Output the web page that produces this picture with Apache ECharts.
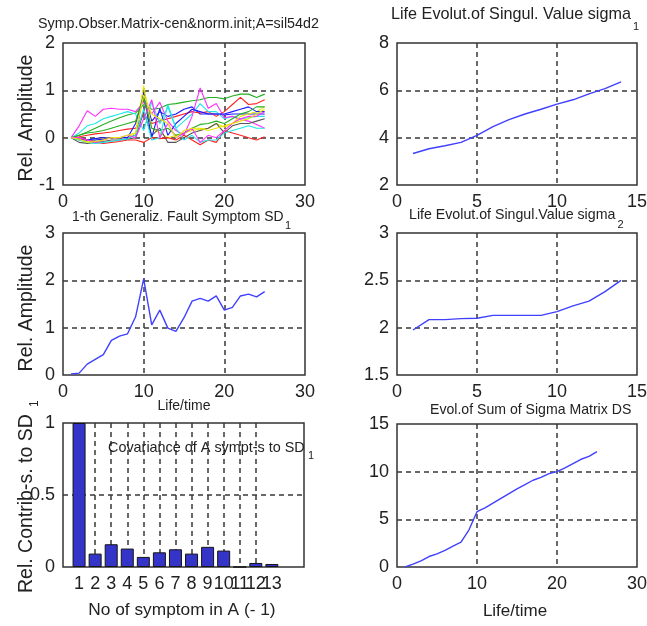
<!DOCTYPE html>
<html>
<head>
<meta charset="utf-8">
<script src="https://cdn.jsdelivr.net/npm/echarts@6/dist/echarts.min.js"></script>
<style>
  html, body { margin: 0; padding: 0; background: #fff; }
  #chart { width: 647px; height: 626px; }
</style>
</head>
<body>
<div id="chart"></div>
<script>
// ---- data -------------------------------------------------------------
const lifeSteps = [1, 2, 3, 4, 5, 6, 7, 8, 9, 10, 11, 12, 13, 14, 15, 16, 17, 18, 19, 20, 21, 22, 23, 24, 25];
const sigmaSteps = [1, 2, 3, 4, 5, 6, 7, 8, 9, 10, 11, 12, 13, 14];

// centred & normalised symptom observation matrix (one row per symptom)
const symptom1  = [0, -0.05, -0.05, -0.02, 0, 0, 0, 0, 0.05, 0.95, 0.35, 0.55, 0.45, 0.5, 0.6, 0.65, 0.5, 0.5, 0.5, 0.48, 0.5, 0.5, 0.5, 0.5, 0.5];
const symptom2  = [0, 0.05, 0.12, 0.2, 0.28, 0.35, 0.42, 0.48, 0.52, 0.7, 0.6, 0.62, 0.7, 0.72, 0.75, 0.78, 0.8, 0.85, 0.85, 0.82, 0.88, 0.92, 0.92, 0.85, 0.92];
const symptom3  = [0, 0.02, 0.05, 0.08, 0.1, 0.12, 0.15, 0.18, 0.2, 0.5, 0.3, 0.35, 0.4, 0.45, 0.5, 0.55, 0.52, 0.55, 0.45, 0.55, 0.7, 0.85, 0.7, 0.72, 0.8];
const symptom4  = [0, 0.1, 0.25, 0.3, 0.4, 0.45, 0.5, 0.55, 0.5, 0.15, 0.75, 0.3, 0.65, 0.2, 0.35, 0.5, 0.72, 0.55, 0.55, 0.4, 0.45, 0.4, 0.42, 0.45, 0.45];
const symptom5  = [0, 0.25, 0.57, 0.45, 0.6, 0.62, 0.6, 0.6, 0.55, 0.75, 0.5, 0.75, 0.35, 0.15, 0.05, 0.45, 1.05, 0.62, 0.72, 0.42, 0.45, 0.38, 0.35, 0.28, 0.2];
const symptom6  = [0, -0.05, -0.08, -0.05, -0.02, 0, 0, 0, 0.1, 1.1, 0.2, 0.1, 0.0, 0.05, 0.1, 0.15, 0.18, 0.2, 0.3, 0.22, 0.3, 0.45, 0.5, 0.55, 0.65];
const symptom7  = [0, -0.1, -0.12, -0.1, -0.08, -0.05, -0.05, -0.03, 0, 0.55, 0.05, 0.2, -0.1, -0.1, 0, 0.1, 0.15, 0.2, 0.3, 0.1, 0.25, 0.3, 0.3, 0.35, 0.4];
const symptom8  = [0, -0.02, -0.05, -0.05, -0.03, 0, 0, 0, 0.3, 0.9, 0.0, 0.62, 0.05, 0.3, 0.45, 0.6, 0.55, 0.5, 0.5, 0.5, 0.55, 0.6, 0.65, 0.55, 0.55];
const symptom9  = [0, 0.05, 0.1, 0.12, 0.15, 0.2, 0.25, 0.3, 0.35, 0.85, 0.2, 0.15, 0.2, 0.05, 0.1, 0.2, 0.28, 0.3, 0.35, 0.3, 0.4, 0.5, 0.55, 0.65, 0.65];
const symptom10 = [0, 0, -0.05, -0.1, -0.12, -0.1, -0.08, -0.05, -0.05, -0.1, 0.0, -0.02, 0.0, -0.05, 0.05, -0.05, -0.15, -0.05, -0.1, 0.15, 0.1, 0.05, 0.0, -0.05, 0.02];
const symptom11 = [0, -0.05, -0.1, -0.12, -0.1, -0.08, -0.05, -0.03, 0.05, 0.6, -0.05, 0.0, 0.7, 0.2, -0.05, 0.05, -0.1, -0.05, -0.05, 0.1, 0.15, 0.2, 0.25, 0.2, 0.2];
const symptom12 = [0, 0.0, -0.05, -0.1, -0.05, 0, 0.0, 0.05, 0.0, 0.4, 0.8, 0.0, 0.3, 0.0, 0.1, 0.2, -0.1, 0.05, 0.0, 0.15, 0.3, 0.4, 0.45, 0.45, 0.55];
const symptom13 = [0, -0.03, -0.1, -0.08, -0.05, 0.0, 0.0, 0.05, 0.1, 0.9, 0.5, 0.4, 0.3, 0.0, 0.15, 0.2, 0.2, 0.15, 0.2, 0.25, 0.3, 0.35, 0.4, 0.5, 0.6];
const symptomRows = [symptom1, symptom2, symptom3, symptom4, symptom5, symptom6, symptom7,
                     symptom8, symptom9, symptom10, symptom11, symptom12, symptom13];

// first generalized fault symptom SD1
const sd1Values = [0.02, 0.04, 0.23, 0.33, 0.43, 0.73, 0.82, 0.87, 1.23, 2.03, 1.06, 1.37, 0.99, 0.92, 1.21, 1.56, 1.62, 1.56, 1.67, 1.37, 1.43, 1.67, 1.71, 1.65, 1.76];

// relative contribution of each symptom to SD1
const barSymptoms = [1, 2, 3, 4, 5, 6, 7, 8, 9, 10, 11, 12, 13];
const barContrib  = [1.0, 0.093, 0.158, 0.128, 0.07, 0.102, 0.123, 0.093, 0.14, 0.114, 0, 0.028, 0.021];

// singular values and their sum
const sigma1Values = [3.33, 3.53, 3.66, 3.8, 4.1, 4.47, 4.76, 5.0, 5.2, 5.42, 5.6, 5.85, 6.07, 6.36];
const sigma2Values = [1.975, 2.085, 2.085, 2.095, 2.1, 2.13, 2.13, 2.13, 2.13, 2.17, 2.23, 2.28, 2.38, 2.5];
const dsValues = [0, 0.3, 0.65, 1.1, 1.38, 1.74, 2.2, 2.6, 3.9, 5.8, 6.2, 6.7, 7.2, 7.7, 8.2, 8.65, 9.1, 9.4, 9.8, 10.0, 10.4, 10.85, 11.3, 11.6, 12.1];

// ---- styling ----------------------------------------------------------
const FONT = "'Liberation Sans', Arial, sans-serif";
const TEXT = '#222';
const LINE_BLUE = '#4040ff';
const symptomColors = ['#1a1aff', '#22b022', '#ff2020', '#22e6e6', '#ff30ff', '#e8e800', '#555555',
                       '#1a1aff', '#22b022', '#ff2020', '#22e6e6', '#ff30ff', '#e8e800'];

const grids = [
  { left: 63,  top: 43,  width: 242, height: 142 },
  { left: 63,  top: 233, width: 242, height: 142 },
  { left: 63,  top: 423, width: 241, height: 144 },
  { left: 397, top: 43,  width: 240, height: 142 },
  { left: 397, top: 233, width: 240, height: 142 },
  { left: 397, top: 424, width: 240, height: 143 }
].map(g => Object.assign(g, {
  show: true, borderColor: '#333', borderWidth: 1.5, backgroundColor: '#fff',
  containLabel: false, outerBoundsMode: 'none'
}));

const gridLine = { show: true, showMinLine: false, showMaxLine: false,
                   lineStyle: { color: '#383838', width: 1.5, type: [5, 4] } };

function labelStyle(extra) {
  return Object.assign({
    color: TEXT, fontSize: 18, fontFamily: FONT, margin: 8,
    hideOverlap: false, showMinLabel: true, showMaxLabel: true
  }, extra || {});
}

function axis(gridIndex, min, max, interval, extra) {
  return Object.assign({
    type: 'value', gridIndex, min, max, interval,
    axisLine: { show: false }, axisTick: { show: false },
    axisLabel: labelStyle(),
    splitLine: gridLine
  }, extra || {});
}

// symptom numbers are crowded, so odd and even labels sit on two overlaid axes
const oddSymptoms = barSymptoms.filter(n => n % 2 === 1);
const evenSymptoms = barSymptoms.filter(n => n % 2 === 0);

const xAxes = [
  axis(0, 0, 30, 10),
  axis(1, 0, 30, 10),
  axis(2, 0, 15, 1, {
    axisTick: { show: false, customValues: barSymptoms },
    axisLabel: labelStyle({ customValues: oddSymptoms })
  }),
  axis(3, 0, 15, 5),
  axis(4, 0, 15, 5),
  axis(5, 0, 30, 10),
  axis(2, 0, 15, 1, {
    position: 'bottom', offset: 0,
    axisTick: { show: false, customValues: evenSymptoms },
    axisLabel: labelStyle({ customValues: evenSymptoms }),
    splitLine: { show: false }
  })
];
const yAxes = [
  axis(0, -1, 2, 1),
  axis(1, 0, 3, 1),
  axis(2, 0, 1, 0.5),
  axis(3, 2, 8, 2),
  axis(4, 1.5, 3, 0.5),
  axis(5, 0, 15, 5)
];

function pairs(xs, ys) { return xs.map((x, i) => [x, ys[i]]); }

function lineSeries(idx, xs, ys, color, width) {
  return {
    type: 'line', xAxisIndex: idx, yAxisIndex: idx, data: pairs(xs, ys),
    showSymbol: false, symbol: 'none', clip: true, silent: true,
    lineStyle: { color, width: width || 1.4 }
  };
}

const series = [];
symptomRows.forEach((row, i) => series.push(lineSeries(0, lifeSteps, row, symptomColors[i], 1.1)));
series.push(lineSeries(1, lifeSteps, sd1Values, LINE_BLUE));
series.push({
  type: 'bar', xAxisIndex: 2, yAxisIndex: 2, data: pairs(barSymptoms, barContrib),
  barWidth: 13, silent: true,
  itemStyle: { color: '#3434c8', borderColor: '#151515', borderWidth: 1 }
});
series.push(lineSeries(3, sigmaSteps, sigma1Values, LINE_BLUE));
series.push(lineSeries(4, sigmaSteps, sigma2Values, LINE_BLUE));
series.push(lineSeries(5, lifeSteps, dsValues, LINE_BLUE));

// ---- titles and axis names -------------------------------------------
function txt(text, x, y, size, align, rotation) {
  return {
    type: 'text', x, y, rotation: rotation || 0, silent: true, z: 100,
    style: { text, fontSize: size, fontFamily: FONT, fill: TEXT,
             align: align || 'left', verticalAlign: 'middle' }
  };
}
const UP = Math.PI / 2;

const texts = [
  txt('Symp.Obser.Matrix-cen&norm.init;A=sil54d2', 38, 24, 14.3),
  txt('Life Evolut.of Singul. Value sigma', 391, 15, 16.2),
  txt('1', 633, 27, 11),
  txt('1-th Generaliz. Fault Symptom SD', 72, 217, 13.9),
  txt('1', 285, 226, 11),
  txt('Life Evolut.of Singul.Value sigma', 409, 215, 14.2),
  txt('2', 617.5, 225, 11),
  txt('Evol.of Sum of Sigma Matrix DS', 430, 410, 14.1),
  txt('Covariance of A sympt-s to SD', 108, 448, 14.4),
  txt('1', 308, 456, 11),
  txt('Life/time', 184, 406, 14, 'center'),
  txt('No of symptom in A (- 1)', 182, 610, 17.3, 'center'),
  txt('Life/time', 515, 611, 17, 'center'),
  txt('Rel. Amplitude', 27, 118, 19.5, 'center', UP),
  txt('Rel. Amplitude', 27, 308, 19.5, 'center', UP),
  txt('Rel. Contrib-s. to SD', 27, 593, 19.5, 'left', UP),
  txt('1', 35, 407, 12, 'left', UP)
];

const chart = echarts.init(document.getElementById('chart'), null, { renderer: 'canvas' });
chart.setOption({
  animation: false,
  backgroundColor: '#fff',
  grid: grids,
  xAxis: xAxes,
  yAxis: yAxes,
  series,
  graphic: texts
});
</script>
</body>
</html>
